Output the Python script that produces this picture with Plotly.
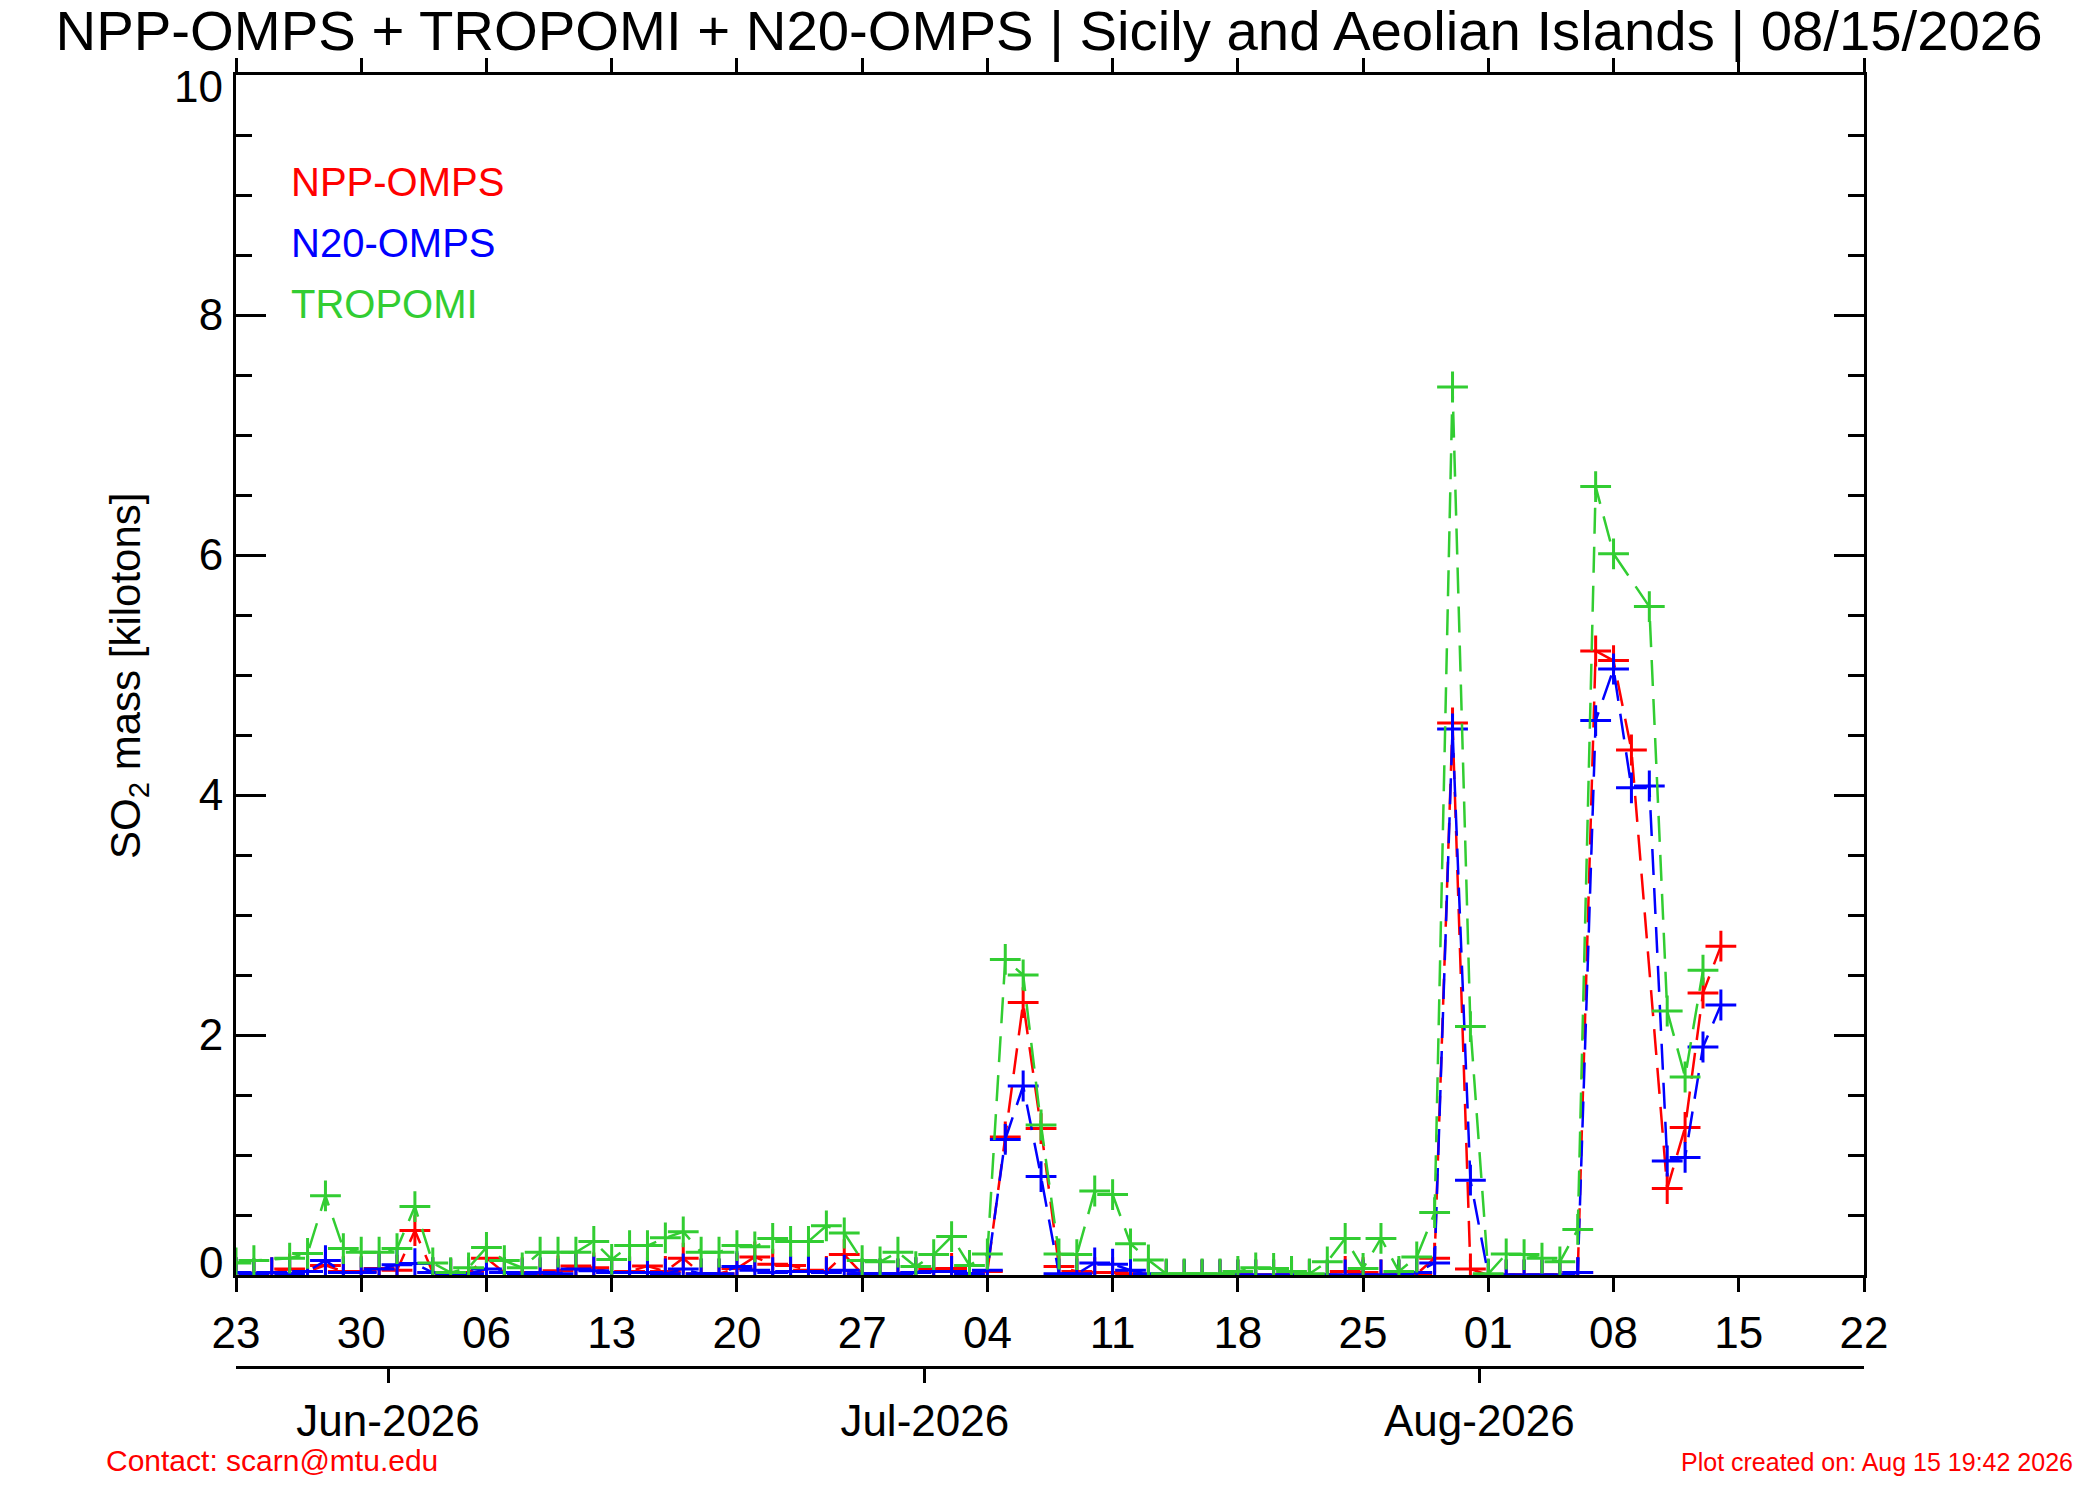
import plotly.graph_objs as go
import pandas as pd

# daily SO2 mass [kilotons], one value per day starting 23 May 2026 (None = no data)
start_day = '2026-05-23'
n_days = 84

npp_omps = [0.02, 0.01, 0.02, 0.05, 0.03, 0.08, 0.03, 0.03, 0.055, 0.04,
            0.37, 0.02, 0.01, 0.02, 0.14, 0.02, 0.02, 0.01, 0.035, 0.075,
            0.06, 0.02, 0.03, 0.075, 0.03, 0.14, 0.01, 0.01, 0.055, 0.15,
            0.09, 0.08, 0.04, 0.03, 0.17, 0.01, 0.01, 0.01, 0.02, 0.05,
            0.055, 0.01, 0.03, 1.15, 2.27, 1.22, 0.07, 0.03, 0.02, 0.02,
            0.01, 0.0, 0.0, 0.0, 0.0, 0.0, 0.0, 0.0, 0.0, 0.0,
            0.0, 0.0, 0.03, 0.02, 0.0, 0.0, 0.01, 0.14, 4.60, 0.05,
            0.0, 0.0, 0.0, 0.0, 0.0, 0.02, 5.20, 5.12, 4.375, None,
            0.72, 1.23, 2.35, 2.74]

n20_omps = [0.02, 0.01, 0.02, 0.01, 0.03, 0.12, 0.02, 0.02, 0.05, 0.085,
            0.095, 0.02, 0.01, 0.01, 0.05, 0.02, 0.01, 0.02, 0.01, 0.05,
            0.035, 0.02, 0.02, 0.02, 0.01, 0.05, 0.01, 0.01, 0.07, 0.04,
            0.02, 0.03, 0.03, 0.02, 0.04, 0.01, 0.01, 0.01, 0.02, 0.03,
            0.03, 0.01, 0.04, 1.13, 1.575, 0.82, 0.01, 0.01, 0.10, 0.09,
            0.04, 0.01, 0.0, 0.0, 0.0, 0.0, 0.0, 0.0, 0.0, 0.0,
            0.0, 0.0, 0.0, 0.0, 0.0, 0.0, 0.02, 0.10, 4.55, 0.79,
            0.0, 0.0, 0.0, 0.0, 0.0, 0.02, 4.62, 5.05, 4.06, 4.075,
            0.95, 0.98, 1.90, 2.25]

tropomi = [0.10, 0.12, None, 0.14, 0.18, 0.66, 0.22, 0.19, 0.19, 0.22,
           0.57, 0.10, 0.02, 0.06, 0.23, 0.12, 0.06, 0.19, 0.19, 0.19,
           0.28, 0.13, 0.245, 0.245, 0.31, 0.36, 0.19, 0.19, 0.245, 0.235,
           0.305, 0.28, 0.28, 0.41, 0.35, 0.12, 0.11, 0.19, 0.07, 0.17,
           0.32, 0.08, 0.175, 2.63, 2.50, 1.25, 0.175, 0.17, 0.70, 0.67,
           0.26, 0.125, 0.01, 0.01, 0.01, 0.01, 0.03, 0.06, 0.055, 0.03,
           0.01, 0.11, 0.305, 0.055, 0.305, 0.03, 0.15, 0.52, 7.40, 2.07,
           0.01, 0.175, 0.17, 0.14, 0.11, 0.38, 6.57, 6.01, None, 5.57,
           2.20, 1.65, 2.54, None]

x_range = ['2026-05-23', '2026-08-22']
month_ticks = ['2026-05-31 12:00', '2026-06-30 12:00', '2026-07-31 12:00']
month_labels = ['Jun-2026', 'Jul-2026', 'Aug-2026']

y_ticks = [0, 2, 4, 6, 8, 10]
y_labels = ['', '2', '4', '6', '8', '']   # 0 and 10 are drawn nudged inward below

dates = pd.date_range(start_day, periods=n_days, freq='D')

FONT = 'Liberation Sans, Arial, sans-serif'
series = [('NPP-OMPS', npp_omps, '#ff0000'),
          ('N20-OMPS', n20_omps, '#0000ff'),
          ('TROPOMI', tropomi, '#32cd32')]

data = []
for name, vals, col in series:
    data.append(go.Scatter(x=dates, y=vals, name=name, mode='lines+markers',
                           connectgaps=True,
                           line=dict(color=col, width=2.5, dash='26px,13px'),
                           marker=dict(symbol='cross-thin', size=22, color=col,
                                       line=dict(color=col, width=3))))
# empty trace so the month axis gets drawn
data.append(go.Scatter(x=dates, y=[None] * n_days, xaxis='x2', showlegend=False,
                       hoverinfo='skip'))

# the page body adds an 8px offset, so the figure is 8px smaller and shifted
OFF = 8
W, H = 2100 - OFF, 1500 - OFF
ml, mt = 236 - OFF, 75 - OFF
mr = W - (1864 - OFF)
mb = H - (1367 - OFF)
plot_h = H - mt - mb
ydom0 = (H - mb - (1275 - OFF)) / plot_h

def px(x):
    return (x - OFF - ml) / (W - ml - mr)

def py(y):
    return (H - mb - (y - OFF)) / plot_h

axis_common = dict(showgrid=False, zeroline=False, showline=True, linecolor='black',
                   linewidth=3, tickcolor='black', tickwidth=3,
                   tickfont=dict(family=FONT, size=44, color='black'))

layout = go.Layout(
    width=W, height=H,
    paper_bgcolor='white', plot_bgcolor='white',
    margin=dict(l=ml, r=mr, t=mt, b=mb),
    showlegend=False,
    title=dict(text='NPP-OMPS + TROPOMI + N20-OMPS | Sicily and Aeolian Islands | 08/15/2026',
               x=(1049 - OFF) / W, xanchor='center', y=1 - (30 - OFF) / H, yanchor='middle',
               font=dict(family=FONT, size=56.3, color='black')),
    xaxis=dict(axis_common, type='date', range=x_range, anchor='y',
               tick0=start_day, dtick=7 * 86400000, tickformat='%d',
               ticks='outside', ticklen=14, mirror='ticks', ticklabelstandoff=3),
    xaxis2=dict(axis_common, type='date', range=x_range, overlaying='x',
                anchor='free', position=0, side='bottom',
                tickmode='array', tickvals=month_ticks, ticktext=month_labels,
                ticks='outside', ticklen=14, ticklabelstandoff=0),
    yaxis=dict(axis_common, range=[0, 10], domain=[ydom0, 1],
               tickmode='array', tickvals=y_ticks, ticktext=y_labels,
               ticks='inside', ticklen=30, mirror='ticks', ticklabelstandoff=1,
               minor=dict(dtick=0.5, ticks='inside', ticklen=16, tickwidth=3,
                          tickcolor='black')),
)

fig = go.Figure(data=data, layout=layout)

# end labels of the y axis sit a little inside the range
for val, shift in [(y_ticks[0], 13), (y_ticks[-1], -11)]:
    fig.add_annotation(text=str(val), xref='paper', yref='y', x=0, y=val,
                       xanchor='right', yanchor='middle', xshift=-11, yshift=shift,
                       showarrow=False, font=dict(family=FONT, size=44, color='black'))

# legend as coloured text only
for i, (name, vals, col) in enumerate(series):
    fig.add_annotation(text=name, xref='paper', yref='paper', x=px(289),
                       y=py(182 + 61 * i), xanchor='left', yanchor='middle',
                       showarrow=False, font=dict(family=FONT, size=40, color=col))

fig.add_annotation(text='SO<sub>2</sub> mass [kilotons]', xref='paper', yref='paper',
                   x=px(128), y=py(676), textangle=-90, showarrow=False,
                   xanchor='center', yanchor='middle',
                   font=dict(family=FONT, size=42, color='black'))
fig.add_annotation(text='Contact: scarn@mtu.edu', xref='paper', yref='paper',
                   x=px(104), y=py(1460), xanchor='left', yanchor='middle',
                   showarrow=False, font=dict(family=FONT, size=30, color='#ff0000'))
fig.add_annotation(text='Plot created on: Aug 15 19:42 2026', xref='paper', yref='paper',
                   x=px(2075), y=py(1462), xanchor='right', yanchor='middle',
                   showarrow=False, font=dict(family=FONT, size=25, color='#ff0000'))

fig.write_html("out.html")
